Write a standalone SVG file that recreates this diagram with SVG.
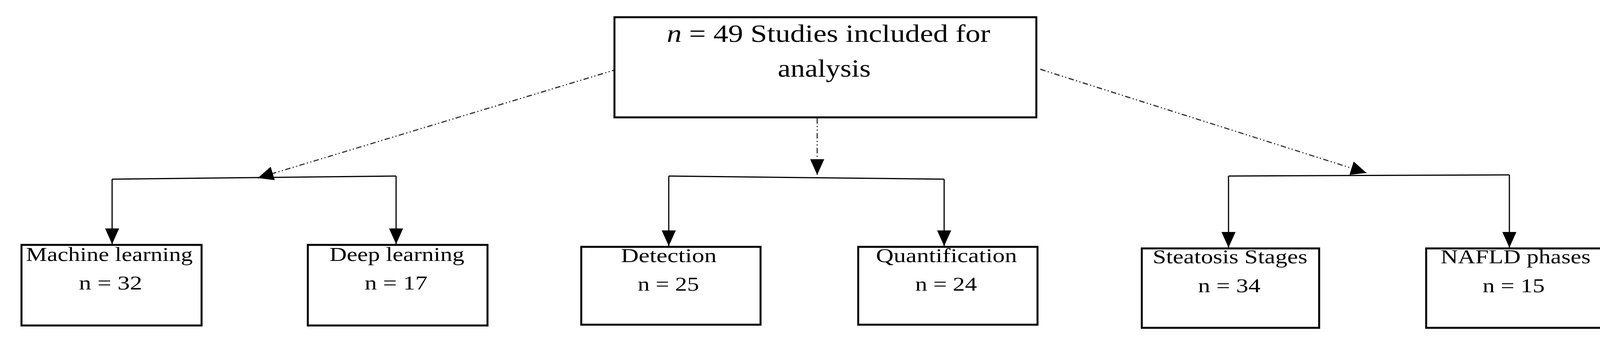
<svg xmlns="http://www.w3.org/2000/svg" width="4143" height="864" viewBox="0 0 4143 864">
<style>
.box{fill:#fff;stroke:#000;stroke-width:5}
.t{font-family:"Liberation Serif",serif;fill:#000;text-anchor:middle}
.s{font-size:50px}
.m{font-size:64px}
.solid{stroke:#000;stroke-width:3;fill:none}
.dash{stroke:#333;stroke-width:3;fill:none;stroke-dasharray:14 6 3 6 3 6}
</style>
<defs>
<marker id="ah" markerUnits="userSpaceOnUse" markerWidth="40" markerHeight="36" refX="40" refY="18" orient="auto">
<path d="M0,0 L40,18 L0,36 Z" fill="#000"/>
</marker>
</defs>
<rect width="4143" height="864" fill="#fff"/>
<g id="connectors">
<path class="dash" d="M1580,177 L660,455" marker-end="url(#ah)"/>
<path class="dash" d="M2092,302 L2092,447" marker-end="url(#ah)"/>
<path class="dash" d="M2663,177 L3498,442" marker-end="url(#ah)"/>
<path class="solid" d="M287,458 L1014,450"/>
<path class="solid" d="M1712,450 L2417,458"/>
<path class="solid" d="M3145,450 L3864,447"/>
<path class="solid" d="M287,458 L287,624" marker-end="url(#ah)"/>
<path class="solid" d="M1014,450 L1014,624" marker-end="url(#ah)"/>
<path class="solid" d="M1712,450 L1712,629" marker-end="url(#ah)"/>
<path class="solid" d="M2417,458 L2417,629" marker-end="url(#ah)"/>
<path class="solid" d="M3145,450 L3145,633" marker-end="url(#ah)"/>
<path class="solid" d="M3864,447 L3864,633" marker-end="url(#ah)"/>
</g>
<g id="root">
<rect class="box" x="1573" y="44" width="1080" height="256"/>
<text class="t m" x="2121" y="107" textLength="828" lengthAdjust="spacingAndGlyphs"><tspan font-style="italic">n</tspan> = 49 Studies included for</text>
<text class="t m" x="2110" y="196" textLength="238" lengthAdjust="spacingAndGlyphs">analysis</text>
</g>
<g id="ml">
<rect class="box" x="55" y="626" width="461" height="206"/>
<text class="t s" x="280" y="667" textLength="427" lengthAdjust="spacingAndGlyphs">Machine learning</text>
<text class="t s" x="283" y="740" textLength="162" lengthAdjust="spacingAndGlyphs">n = 32</text>
</g>
<g id="dl">
<rect class="box" x="788" y="626" width="460" height="206"/>
<text class="t s" x="1016" y="667" textLength="345" lengthAdjust="spacingAndGlyphs">Deep learning</text>
<text class="t s" x="1014" y="740" textLength="161" lengthAdjust="spacingAndGlyphs">n = 17</text>
</g>
<g id="det">
<rect class="box" x="1488" y="631" width="459" height="199"/>
<text class="t s" x="1712" y="670" textLength="245" lengthAdjust="spacingAndGlyphs">Detection</text>
<text class="t s" x="1711" y="743" textLength="157" lengthAdjust="spacingAndGlyphs">n = 25</text>
</g>
<g id="quant">
<rect class="box" x="2197" y="631" width="459" height="199"/>
<text class="t s" x="2423" y="670" textLength="361" lengthAdjust="spacingAndGlyphs">Quantification</text>
<text class="t s" x="2422" y="743" textLength="158" lengthAdjust="spacingAndGlyphs">n = 24</text>
</g>
<g id="steat">
<rect class="box" x="2923" y="635" width="454" height="203"/>
<text class="t s" x="3149" y="673" textLength="396" lengthAdjust="spacingAndGlyphs">Steatosis Stages</text>
<text class="t s" x="3147" y="747" textLength="160" lengthAdjust="spacingAndGlyphs">n = 34</text>
</g>
<g id="nafld">
<rect class="box" x="3651" y="635" width="459" height="203"/>
<text class="t s" x="3880" y="673" textLength="384" lengthAdjust="spacingAndGlyphs">NAFLD  phases</text>
<text class="t s" x="3875" y="747" textLength="159" lengthAdjust="spacingAndGlyphs">n = 15</text>
</g>
</svg>
